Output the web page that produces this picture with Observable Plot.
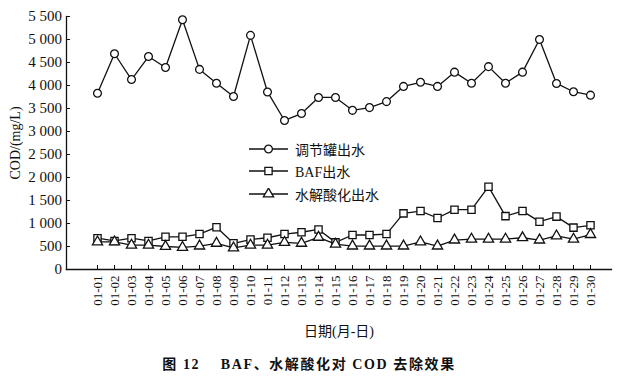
<!DOCTYPE html>
<html>
<head>
<meta charset="utf-8">
<script src="https://cdn.jsdelivr.net/npm/d3@7"></script>
<script src="https://cdn.jsdelivr.net/npm/@observablehq/plot@0.6"></script>
<style>
  html, body { margin: 0; padding: 0; background: #fff; }
  #wrap { position: relative; width: 637px; height: 380px; font-family: "Liberation Serif", "Noto Sans CJK SC", serif; }
  #legend { position: absolute; left: 249px; top: 138px; font-size: 14px; color: #111; }
  #legend .row { display: flex; align-items: center; height: 22.3px; }
  #legend svg { margin-right: 7px; }
  #caption { position: absolute; left: 0; width: 618px; top: 353px; text-align: center; font-weight: bold; font-size: 14px; letter-spacing: 1.6px; color: #111; }
</style>
</head>
<body>
<div id="wrap">
  <div id="chart"></div>
  <div id="legend"></div>
  <div id="caption"></div>
</div>
<script>
const dates = ["01-01","01-02","01-03","01-04","01-05","01-06","01-07","01-08","01-09","01-10",
  "01-11","01-12","01-13","01-14","01-15","01-16","01-17","01-18","01-19","01-20",
  "01-21","01-22","01-23","01-24","01-25","01-26","01-27","01-28","01-29","01-30"];
const tank = [3830,4690,4130,4630,4390,5430,4350,4050,3760,5090,
  3860,3240,3390,3740,3740,3460,3520,3650,3980,4070,
  3980,4290,4050,4410,4050,4290,5000,4045,3865,3790];
const baf = [680,620,680,620,710,710,770,920,570,650,
  690,770,810,870,590,750,750,770,1220,1270,
  1120,1300,1300,1800,1160,1270,1040,1150,910,960];
const hydro = [600,600,530,530,500,480,510,570,470,530,
  530,590,570,700,550,510,510,510,510,600,
  510,640,660,660,660,690,640,730,660,760];
const seriesNames = ["调节罐出水", "BAF出水", "水解酸化出水"];
const seriesSymbols = ["circle", "square", "triangle"];
const yTicks = [0,500,1000,1500,2000,2500,3000,3500,4000,4500,5000,5500];
const xLabel = "日期(月-日)";
const yLabel = "COD/(mg/L)";
const caption = "图 12\u2003 BAF、水解酸化对 COD 去除效果";

const seriesValues = [tank, baf, hydro];
const rows = [];
seriesValues.forEach((vals, s) => vals.forEach((v, i) => rows.push({date: dates[i], value: v, series: seriesNames[s]})));

const fmt = v => d3.format(",")(v).replace(/,/g, " ");
const symR = {circle: 3.9, square: 4.1, triangle: 3.8};

const marks = [
  Plot.frame({anchor: "left", stroke: "#111", strokeWidth: 1.3}),
  Plot.frame({anchor: "bottom", stroke: "#111", strokeWidth: 1.3}),
  Plot.axisX({tickSize: -4, tickPadding: 10, tickRotate: -90, fontSize: 13, label: xLabel, labelAnchor: "center", labelOffset: 66, labelArrow: false}),
  Plot.axisY({ticks: yTicks, tickFormat: fmt, tickSize: -4, tickPadding: 8.5, fontSize: 15, label: yLabel, labelAnchor: "center", labelOffset: 56, labelArrow: false}),
];
seriesNames.forEach((name, s) => {
  const d = rows.filter(r => r.series === name);
  marks.push(Plot.line(d, {x: "date", y: "value", stroke: "#111", strokeWidth: 1.3}));
  marks.push(Plot.dot(d, {x: "date", y: "value", symbol: () => seriesSymbols[s], r: symR[seriesSymbols[s]], fill: "white", stroke: "#111", strokeWidth: 1.3}));
});

const chart = Plot.plot({
  width: 637,
  height: 345,
  marginLeft: 66,
  marginRight: 26,
  marginTop: 16,
  marginBottom: 76,
  style: {fontFamily: '"Liberation Serif", "Noto Sans CJK SC", serif', color: "#111", fontSize: "13px", background: "transparent"},
  x: {type: "point", domain: dates, range: [75, 611], label: null},
  y: {domain: [0, 5500], label: null},
  symbol: {type: "identity"},
  marks
});
document.getElementById("chart").appendChild(chart);

chart.querySelectorAll("[aria-label='x-axis label'] text, [aria-label='y-axis label'] text").forEach(t => t.setAttribute("font-size", "14"));

const leg = document.getElementById("legend");
seriesNames.forEach((name, s) => {
  const row = document.createElement("div");
  row.className = "row";
  const sym = d3.symbol(d3["symbol" + seriesSymbols[s][0].toUpperCase() + seriesSymbols[s].slice(1)], Math.PI * symR[seriesSymbols[s]] ** 2)();
  row.innerHTML = `<svg width="39" height="12"><line x1="0" x2="39" y1="6" y2="6" stroke="#111" stroke-width="1.3"/><path transform="translate(19.5,6)" d="${sym}" fill="white" stroke="#111" stroke-width="1.3"/></svg><span>${name}</span>`;
  leg.appendChild(row);
});
document.getElementById("caption").textContent = caption;
</script>
</body>
</html>
